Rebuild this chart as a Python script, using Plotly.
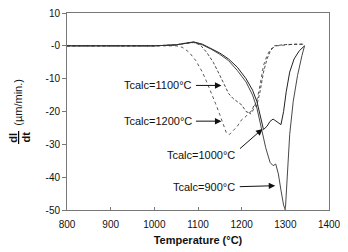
import plotly.graph_objects as go

# ---- data ----
x_1200 = [800, 1000, 1050, 1065, 1080, 1095, 1110, 1120, 1130, 1140, 1150, 1158, 1165, 1172, 1180, 1190, 1200,
          1210, 1216, 1222, 1228, 1236, 1242, 1250, 1258, 1266, 1280, 1300, 1320, 1342]
y_1200 = [0, 0, 0, -0.5, -2, -4.5, -8, -11, -14, -17.5, -21, -24, -26.5, -27, -26, -24.5, -22.5,
          -21.5, -20.3, -20.8, -19, -16, -12, -6, -3, -1, 0, 0.3, 0.5, 0.5]

x_1100 = [800, 1000, 1050, 1070, 1090, 1105, 1120, 1135, 1150, 1160, 1170, 1180, 1190, 1200, 1210, 1218,
          1224, 1228, 1234, 1242, 1250, 1258, 1266, 1275, 1300, 1342]
y_1100 = [0, 0, 0.3, 0.8, 1.0, 0.3, -2, -5, -9, -12, -14.5, -16, -17, -18, -20, -20.5,
          -19.5, -18.2, -18.5, -14, -8, -4, -1.5, 0, 0.4, 0.5]

x_1000 = [800, 1000, 1050, 1070, 1090, 1110, 1130, 1150, 1170, 1190, 1210, 1225, 1235, 1242, 1250, 1258,
          1265, 1272, 1280, 1290, 1296, 1302, 1310, 1320, 1332, 1344]
y_1000 = [0, 0, 0.3, 0.8, 1.2, 0.5, -0.8, -2.2, -4, -6.5, -10, -13.5, -17, -21, -25.5, -24.5,
          -23, -22.3, -23, -24, -20, -14, -8, -4, -1.5, 0]

x_900 = [800, 1000, 1050, 1070, 1090, 1110, 1130, 1150, 1170, 1190, 1210, 1225, 1235, 1245, 1255, 1265,
         1272, 1278, 1284, 1290, 1296, 1300, 1305, 1310, 1318, 1328, 1338, 1344]
y_900 = [0, 0, 0.3, 0.8, 1.1, 0.3, -1, -2.6, -4.5, -7.5, -11, -15, -19, -25, -31, -35.5,
         -36.5, -36, -39, -44, -48.5, -50, -39, -27, -17, -9, -3, 0]

x_ticks = [800, 900, 1000, 1100, 1200, 1300, 1400]
y_ticks = [10, 0, -10, -20, -30, -40, -50]
y_tick_text = ["10", "-0", "-10", "-20", "-30", "-40", "-50"]

labels = ["Tcalc=1100°C", "Tcalc=1200°C", "Tcalc=1000°C", "Tcalc=900°C"]

FONT = "Liberation Sans, Arial, sans-serif"
LC = "#222222"

fig = go.Figure()
fig.add_trace(go.Scatter(x=x_1200, y=y_1200, mode="lines", line=dict(color="#444", width=0.9, dash="dot")))
fig.add_trace(go.Scatter(x=x_1100, y=y_1100, mode="lines", line=dict(color="#333", width=0.9, dash="3px,2px")))
fig.add_trace(go.Scatter(x=x_1000, y=y_1000, mode="lines", line=dict(color=LC, width=1)))
fig.add_trace(go.Scatter(x=x_900, y=y_900, mode="lines", line=dict(color="#333", width=0.9)))

# text labels (data coords) and arrows (tip in data coords, tail offset in px)
texts = [(1008, -12.06), (1008, -22.94), (1107, -33.2), (1113, -42.9)]
tips = [(1153.7, -12.06), (1153.7, -22.94), (1247.8, -25.3), (1276.9, -42.6)]
tails_px = [(-27, 0), (-27, 0), (-24, 21), (-37, 1)]

ann = []
for lab, (tx, ty) in zip(labels, texts):
    ann.append(dict(x=tx, y=ty, xref="x", yref="y", text=lab, showarrow=False,
                    xanchor="center", yanchor="middle",
                    font=dict(family=FONT, size=11, color="#111")))
for (px, py), (ax, ay) in zip(tips, tails_px):
    ann.append(dict(x=px, y=py, xref="x", yref="y", text="", showarrow=True,
                    ax=ax, ay=ay, arrowhead=2, arrowsize=1.3, arrowwidth=1, arrowcolor="#111",
                    standoff=0, startstandoff=0))

# y-axis title: fraction dl/dt and units (rotated)
ann.append(dict(x=-0.209, y=0.368, xref="paper", yref="paper", text="<b>dl</b>",
                xanchor="center", yanchor="middle",
                textangle=-90, showarrow=False, font=dict(family=FONT, size=11, color="#111")))
ann.append(dict(x=-0.160, y=0.368, xref="paper", yref="paper", text="<b>dt</b>",
                xanchor="center", yanchor="middle",
                textangle=-90, showarrow=False, font=dict(family=FONT, size=11, color="#111")))
ann.append(dict(x=-0.1866, y=0.545, xref="paper", yref="paper", text="(µm/min.)",
                xanchor="center", yanchor="middle",
                textangle=-90, showarrow=False, font=dict(family=FONT, size=11, color="#111")))

fig.update_layout(
    width=348, height=252,
    margin=dict(l=67, r=13, t=7, b=41),
    paper_bgcolor="white", plot_bgcolor="white",
    showlegend=False,
    annotations=ann,
    shapes=[dict(type="line", xref="paper", yref="paper", x0=-0.1847, x1=-0.1847, y0=0.335, y1=0.401,
                 line=dict(color="#000", width=1.2), layer="above")],
    font=dict(family=FONT, size=10, color="#111"),
)
fig.update_xaxes(range=[800, 1400], tickvals=x_ticks, showgrid=False, zeroline=False,
                 showline=True, mirror=True, linecolor="#777", linewidth=1,
                 ticks="inside", ticklen=3, tickcolor="#777", ticklabelstandoff=5,
                 title=dict(text="<b>Temperature (°C)</b>", font=dict(family=FONT, size=11), standoff=7))
fig.update_yaxes(range=[-50, 10], tickvals=y_ticks, ticktext=y_tick_text, showgrid=False, zeroline=False,
                 showline=True, mirror=True, linecolor="#777", linewidth=1,
                 ticks="outside", ticklen=4, tickcolor="#777")

fig.write_html("out.html")
